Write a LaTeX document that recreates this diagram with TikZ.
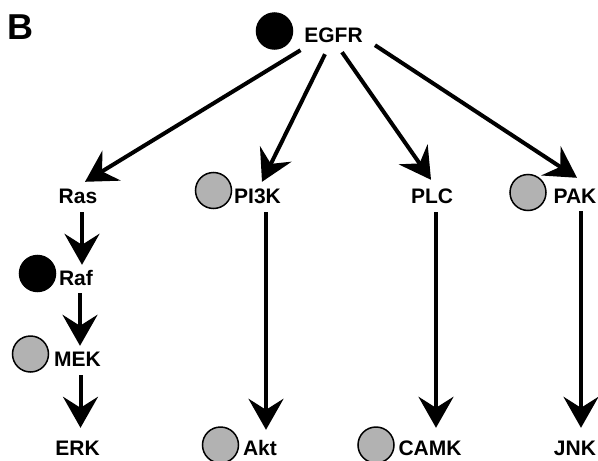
\documentclass[tikz,border=0pt]{standalone}
\usepackage{fontspec}
\setmainfont{Liberation Sans}
\usetikzlibrary{arrows.meta}
\begin{document}
\begin{tikzpicture}[x=1pt,y=-1pt,
  lbl/.style={font=\fontsize{21}{24}\selectfont\bfseries, inner sep=0pt,
              text height=15pt, text depth=0pt},
  dot/.style={circle, draw=black, line width=1.5pt, minimum size=36pt, inner sep=0pt},
  blackdot/.style={dot, fill=black},
  greydot/.style={dot, fill=black!30},
  arr/.style={line width=4pt, -{Stealth[length=31pt,width=35pt,inset=11pt]}},
]
\useasboundingbox (0,0) rectangle (598,461);

% panel letter
\node[font=\fontsize{36}{40}\selectfont\bfseries, inner sep=0pt] (panel) at (20,27) {B};

% labels (positions are centres of the capitals)
\node[lbl] (egfr) at (333.5,34.5) {EGFR};
\node[lbl] (ras)  at (78,195.5)  {Ras};
\node[lbl] (pi3k) at (257.5,195.5) {PI3K};
\node[lbl] (plc)  at (432,195.5) {PLC};
\node[lbl] (pak)  at (575,195.5) {PAK};
\node[lbl] (raf)  at (76,277.5)  {Raf};
\node[lbl] (mek)  at (77.5,358.5) {MEK};
\node[lbl] (erk)  at (77.5,447.5) {ERK};
\node[lbl] (akt)  at (260,447.5) {Akt};
\node[lbl] (camk) at (430,447.5) {CAMK};
\node[lbl] (jnk)  at (575,447.5) {JNK};

% status markers
\node[blackdot] (egfrdot) at (274.5,31) {};
\node[greydot]  (pi3kdot) at (213.5,190.5) {};
\node[greydot]  (pakdot)  at (528,192.5) {};
\node[blackdot] (rafdot)  at (37.5,273.5) {};
\node[greydot]  (mekdot)  at (30.5,354) {};
\node[greydot]  (aktdot)  at (220.5,445) {};
\node[greydot]  (camkdot) at (376,445) {};

% EGFR fans out to the four branches
\draw[arr] ([shift={(-33pt,-8pt)}]egfr.south) -- ([shift={(7pt,6pt)}]ras.north);
\draw[arr] ([shift={(-8.5pt,-12pt)}]egfr.south) -- ([shift={(4.5pt,6pt)}]pi3k.north);
\draw[arr] ([shift={(8.5pt,-10pt)}]egfr.south) -- ([shift={(-1pt,8pt)}]plc.north);
\draw[arr] ([shift={(41.5pt,-3pt)}]egfr.south) -- ([shift={(2pt,10pt)}]pak.north);

% MAPK cascade
\draw[arr, shorten <=9pt, shorten >=5pt] ([xshift=4pt]ras.south) -- ([xshift=4pt]ras.south |- raf.north);
\draw[arr, shorten <=8pt, shorten >=5pt] ([xshift=4pt]raf.south) -- ([xshift=4pt]raf.south |- mek.north);
\draw[arr, shorten <=9pt, shorten >=12pt] ([xshift=3pt]mek.south) -- ([xshift=3pt]mek.south |- erk.north);

% long branches
\draw[arr, shorten <=9pt, shorten >=10pt] ([xshift=8.5pt]pi3k.south) -- ([xshift=8.5pt]pi3k.south |- akt.north);
\draw[arr, shorten <=9pt, shorten >=12pt] ([xshift=4pt]plc.south) -- ([xshift=4pt]plc.south |- camk.north);
\draw[arr, shorten <=8pt, shorten >=12pt] ([xshift=6pt]pak.south) -- ([xshift=6pt]pak.south |- jnk.north);
\end{tikzpicture}
\end{document}
